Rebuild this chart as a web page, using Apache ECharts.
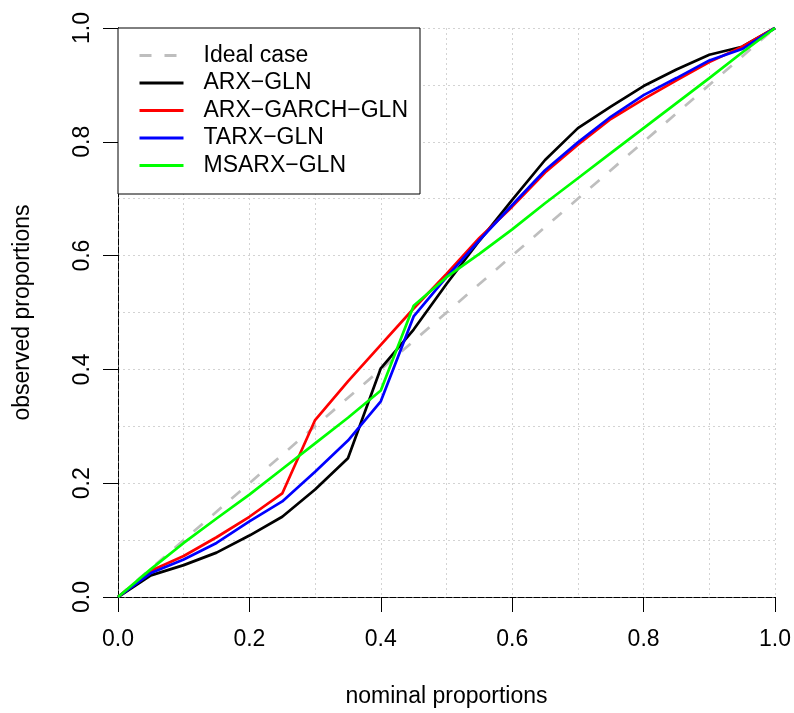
<!DOCTYPE html>
<html>
<head>
<meta charset="utf-8">
<script src="https://cdn.jsdelivr.net/npm/echarts@6/dist/echarts.min.js"></script>
<style>
html,body{margin:0;padding:0;background:#fff;}
#chart{width:794px;height:713px;}
</style>
</head>
<body>
<div id="chart"></div>
<script>
// nominal proportions
const nominal = [0, 0.05, 0.1, 0.15, 0.2, 0.25, 0.3, 0.35, 0.4, 0.45, 0.5, 0.55, 0.6, 0.65, 0.7, 0.75, 0.8, 0.85, 0.9, 0.95, 1.0];
// observed proportions
const arxGln      = [0, 0.038, 0.056, 0.078, 0.108, 0.141, 0.189, 0.244, 0.402, 0.470, 0.550, 0.626, 0.698, 0.768, 0.824, 0.862, 0.898, 0.927, 0.953, 0.967, 1.0];
const arxGarchGln = [0, 0.046, 0.072, 0.105, 0.141, 0.182, 0.311, 0.379, 0.443, 0.507, 0.568, 0.631, 0.686, 0.746, 0.795, 0.840, 0.875, 0.908, 0.940, 0.967, 1.0];
const tarxGln     = [0, 0.042, 0.066, 0.095, 0.133, 0.168, 0.220, 0.275, 0.344, 0.493, 0.562, 0.627, 0.689, 0.750, 0.799, 0.844, 0.882, 0.912, 0.943, 0.963, 1.0];
const msarxGln    = [0, 0.049, 0.095, 0.138, 0.180, 0.225, 0.270, 0.315, 0.363, 0.512, 0.562, 0.603, 0.646, 0.692, 0.736, 0.780, 0.824, 0.868, 0.912, 0.957, 1.0];
const idealX = [0, 1];
const idealY = [0, 1];
const seriesNames = ['Ideal case', 'ARX\u2212GLN', 'ARX\u2212GARCH\u2212GLN', 'TARX\u2212GLN', 'MSARX\u2212GLN'];

const FONT = 'Liberation Sans, Arial, Helvetica, sans-serif';
const FS = 23;
const pairs = (xs, ys) => xs.map((x, i) => [x, ys[i]]);

const gridLine = {show: true, lineStyle: {color: '#d3d3d3', type: [2, 3], width: 1}};
const borderLine = {show: true, lineStyle: {color: '#000', type: [6, 2], width: 1}};

const chart = echarts.init(document.getElementById('chart'), null, {renderer: 'canvas'});
const option = {
  backgroundColor: '#fff',
  animation: false,
  textStyle: {fontFamily: FONT},
  grid: {left: 118, right: 16, top: 28, bottom: 110, containLabel: false},
  legend: {
    orient: 'vertical',
    left: 118, top: 28,
    padding: [16, 12, 17, 20],
    itemGap: 4.5,
    itemWidth: 44,
    itemHeight: 14,
    backgroundColor: '#fff',
    borderColor: '#000',
    borderWidth: 1,
    selectedMode: false,
    data: seriesNames,
    itemStyle: {opacity: 0},
    lineStyle: {width: 3},
    textStyle: {fontFamily: FONT, fontSize: FS, color: '#000', lineHeight: 23, padding: [0, 0, 0, 15]}
  },
  xAxis: [{
    type: 'value', min: 0, max: 1, interval: 0.2,
    position: 'bottom',
    name: 'nominal proportions', nameLocation: 'middle', nameGap: 88,
    nameTextStyle: {fontFamily: FONT, fontSize: FS, color: '#000'},
    axisLine: borderLine,
    axisTick: {show: true, inside: false, length: 15, lineStyle: {color: '#000', width: 1}},
    axisLabel: {show: true, margin: 31, fontFamily: FONT, fontSize: FS, color: '#000',
      formatter: v => v.toFixed(1)},
    splitLine: gridLine,
    minorTick: {show: false, splitNumber: 2},
    minorSplitLine: gridLine
  }, {
    type: 'value', min: 0, max: 1, interval: 0.2, position: 'top',
    axisLine: borderLine, axisTick: {show: false}, axisLabel: {show: false}, splitLine: {show: false}
  }],
  yAxis: [{
    type: 'value', min: 0, max: 1, interval: 0.2,
    position: 'left',
    name: 'observed proportions', nameLocation: 'middle', nameGap: 84, nameRotate: 90,
    nameTextStyle: {fontFamily: FONT, fontSize: FS, color: '#000'},
    axisLine: borderLine,
    axisTick: {show: true, inside: false, length: 15, lineStyle: {color: '#000', width: 1}},
    axisLabel: {show: true, margin: 24, rotate: 90, fontFamily: FONT, fontSize: FS, color: '#000',
      formatter: v => v.toFixed(1)},
    splitLine: gridLine,
    minorTick: {show: false, splitNumber: 2},
    minorSplitLine: gridLine
  }, {
    type: 'value', min: 0, max: 1, interval: 0.2, position: 'right',
    axisLine: borderLine, axisTick: {show: false}, axisLabel: {show: false}, splitLine: {show: false}
  }],
  series: [
    {name: seriesNames[0], type: 'line', data: pairs(idealX, idealY), showSymbol: false, symbol: 'none',
      lineStyle: {color: '#bebebe', width: 2.7, type: [12, 13]}, itemStyle: {color: '#bebebe'}},
    {name: seriesNames[1], type: 'line', data: pairs(nominal, arxGln), showSymbol: false, symbol: 'none',
      lineStyle: {color: '#000000', width: 2.7}, itemStyle: {color: '#000000'}},
    {name: seriesNames[2], type: 'line', data: pairs(nominal, arxGarchGln), showSymbol: false, symbol: 'none',
      lineStyle: {color: '#ff0000', width: 2.7}, itemStyle: {color: '#ff0000'}},
    {name: seriesNames[3], type: 'line', data: pairs(nominal, tarxGln), showSymbol: false, symbol: 'none',
      lineStyle: {color: '#0000ff', width: 2.7}, itemStyle: {color: '#0000ff'}},
    {name: seriesNames[4], type: 'line', data: pairs(nominal, msarxGln), showSymbol: false, symbol: 'none',
      lineStyle: {color: '#00ff00', width: 2.7}, itemStyle: {color: '#00ff00'}}
  ]
};
chart.setOption(option);
</script>
</body>
</html>
